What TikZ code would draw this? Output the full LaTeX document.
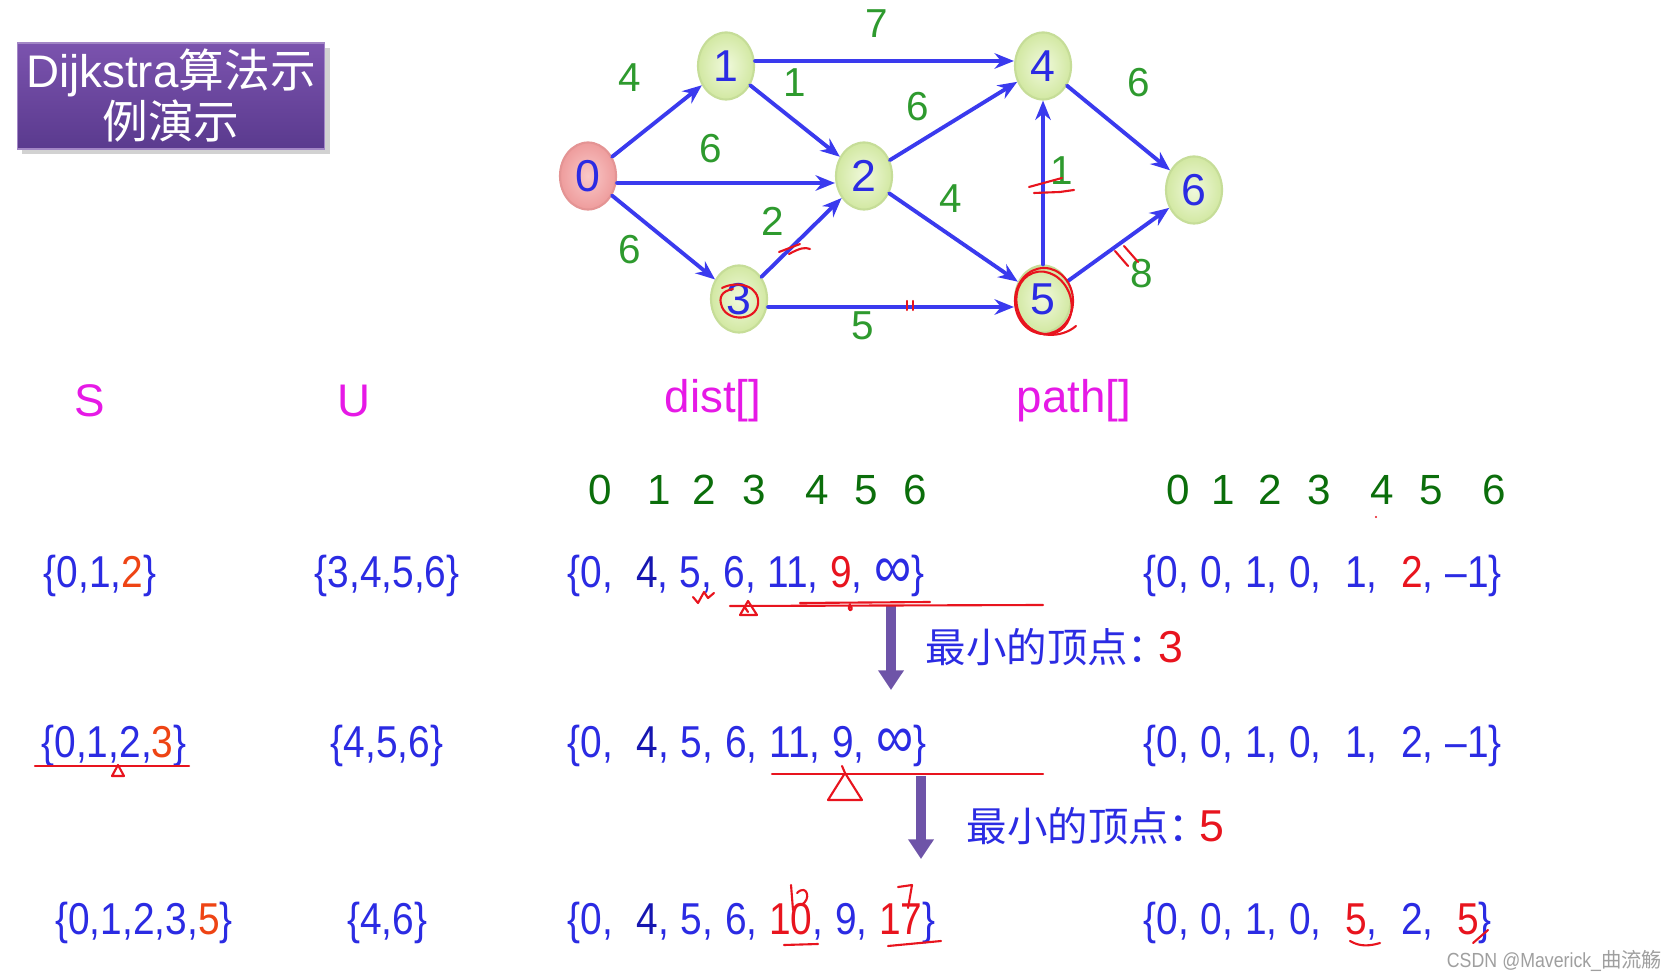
\documentclass[tikz,border=0pt]{standalone}
\usepackage{fontspec}
\setmainfont{Liberation Sans}
\newfontfamily\cjk{Noto Sans CJK SC}
\newfontfamily\narrow[FakeStretch=0.87]{Liberation Sans}
\newfontfamily\distfont[FakeStretch=0.87,WordSpace=1.2]{Liberation Sans}
\newfontfamily\pathfont[FakeStretch=0.87,WordSpace=1.03]{Liberation Sans}
\usetikzlibrary{arrows.meta,shapes.geometric,shadows}
\definecolor{linkblue}{HTML}{3A3AEE}
\definecolor{txtblue}{HTML}{2B2BE3}
\definecolor{deepblue}{HTML}{1616B0}
\definecolor{wgreen}{HTML}{2E9A2E}
\definecolor{igreen}{HTML}{0B6E0B}
\definecolor{hmag}{HTML}{E619E6}
\definecolor{hot}{HTML}{EE4414}
\definecolor{inkred}{HTML}{E8141E}
\definecolor{arrowpurple}{HTML}{6E54A8}
\definecolor{boxtop}{HTML}{7B53AE}
\definecolor{boxbot}{HTML}{5A3A8E}
\definecolor{vline}{HTML}{C6DD98}
\definecolor{vin}{HTML}{F0F9DC}
\definecolor{vout}{HTML}{D2E8A2}
\definecolor{sline}{HTML}{E49494}
\definecolor{sin}{HTML}{F9C8C8}
\definecolor{sout}{HTML}{EE9C9C}
\newcommand\fsz[1]{\fontsize{#1}{#1}\selectfont}
\newcommand\redv[1]{\textcolor{inkred}{#1}}
\newcommand\orgv[1]{\textcolor{hot}{#1}}
\newcommand\navyv[1]{\textcolor{deepblue}{#1}}
\newcommand\infy{{\fsz{17}∞}}
\begin{document}
\begin{tikzpicture}[x=.01cm,y=-.01cm,line cap=round,
  vert/.style={ellipse,minimum width=.56cm,minimum height=.67cm,inner sep=0pt,draw=vline,line width=.6pt,inner color=vin,outer color=vout,text=txtblue,font=\fsz{12.7}},
  src/.style={vert,draw=sline,inner color=sin,outer color=sout},
  link/.style={linkblue,line width=1.1pt,-{Stealth[length=5.5pt,width=4.4pt]}},
  wt/.style={text=wgreen,font=\fsz{11.5}},
  hdr/.style={text=hmag,font=\fsz{13}},
  idx/.style={text=igreen,font=\fsz{12}},
  rowtxt/.style={text=txtblue,font=\narrow\fsz{12.7},inner sep=0pt},
  note/.style={text=txtblue,font=\fsz{11.5},inner sep=0pt,anchor=west},
  bigarrow/.style={arrowpurple,line width=3.1pt,line cap=butt,-{Triangle[length=5.6pt,width=7pt]}},
  ink/.style={inkred,line width=.6pt,line join=round},
  titlebox/.style={rectangle,minimum width=3.07cm,minimum height=1.06cm,inner sep=0pt,top color=boxtop,bottom color=boxbot,draw=boxtop!70!white,line width=.4pt,text=white,align=center,font=\fontsize{13}{14.5}\selectfont,drop shadow={shadow xshift=.05cm,shadow yshift=-.05cm,opacity=.35}}]
\fill[white] (0,0) rectangle (1677,980);
\useasboundingbox (0,0) rectangle (1677,980);
% title
\node[titlebox] (title) at (171,96) {Dijkstra{\cjk 算法示}\\{\cjk 例演示}};
% graph
\node[src] (v0) at (588,176) {0};
\node[vert] (v1) at (726,66) {1};
\node[vert] (v2) at (864,176) {2};
\node[vert] (v3) at (739,299) {3};
\node[vert] (v4) at (1043,66) {4};
\node[vert] (v5) at (1043,299) {5};
\node[vert] (v6) at (1194,190) {6};
\foreach \a/\b in {v0/v1,v0/v3,v1/v2,v3/v2,v2/v4,v2/v5,v5/v4,v4/v6,v5/v6}
  \draw[link] (\a) -- (\b);
\draw[link] ([yshift=-.07cm]v0.east) -- ([yshift=-.07cm]v2.west);
\draw[link] ([yshift=.05cm]v1.east) -- ([yshift=.05cm]v4.west);
\draw[link] ([yshift=-.08cm]v3.east) -- ([yshift=-.08cm]v5.west);
\foreach \n/\x/\y/\t in {w14/877/24/7,w01/630/78/4,w12/795/83/1,w02/711/149/6,w24/918/107/6,w46/1139/83/6,w32/773/221/2,w25/951/199/4,w54/1062/171/1,w03/630/250/6,w35/863/326/5,w56/1142/274/8}
  \node[wt] (\n) at (\x,\y) {\t};
% handwritten marks on the graph
\draw[ink] (722,288) .. controls (738,280) and (760,286) .. (758,304) .. controls (756,321) and (728,322) .. (722,307) .. controls (718,297) and (722,291) .. (733,289);
\draw[ink] (1044,301) ellipse (.29cm and .33cm);
\draw[ink,rotate around={20:(1044,303)}] (1044,303) ellipse (.27cm and .32cm);
\draw[ink] (1020,318) .. controls (1035,340) and (1062,338) .. (1076,326);
\draw[ink] (779,252) -- (800,244) (789,254) .. controls (800,248) and (805,247) .. (810,249);
\draw[ink] (907,301) -- (907,310) (913,301) -- (913,310);
\draw[ink] (1029,187) -- (1062,178) (1034,193) -- (1060,192) -- (1074,190);
\draw[ink] (1115,251) -- (1128,266) (1124,246) -- (1138,262);
% column headers
\node[hdr] (hS) at (90,401) {S};
\node[hdr] (hU) at (354,401) {U};
\node[hdr] (hd) at (713,401) {dist[]};
\node[hdr] (hp) at (1074,401) {path[]};
\foreach \x [count=\i from 0] in {600,659,704,754,817,866,915}
  \node[idx] (di\i) at (\x,490) {\i};
\foreach \x [count=\i from 0] in {1178,1223,1270,1319,1382,1431,1494}
  \node[idx] (pi\i) at (\x,490) {\i};
\fill[inkred] (1376,517) circle (.012cm);
% rows
\node[rowtxt] (s1) at (100,576) {\{0,1,\orgv{2}\}};
\node[rowtxt] (u1) at (387,576) {\{3,4,5,6\}};
\node[rowtxt,anchor=west,font=\distfont\fsz{12.7}] (d1) at (567,576) {\{0,\ \ \navyv{4}, 5, 6, 11, \redv{9}, \infy\}};
\node[rowtxt,anchor=west,font=\pathfont\fsz{12.7}] (p1) at (1143,576) {\{0, 0, 1, 0,\ \ 1,\ \ \redv{2}, –1\}};
\node[rowtxt] (s2) at (114,746) {\{0,1,2,\orgv{3}\}};
\node[rowtxt] (u2) at (387,746) {\{4,5,6\}};
\node[rowtxt,anchor=west,font=\distfont\fsz{12.7}] (d2) at (567,746) {\{0,\ \ \navyv{4}, 5, 6, 11, 9, \infy\}};
\node[rowtxt,anchor=west,font=\pathfont\fsz{12.7}] (p2) at (1143,746) {\{0, 0, 1, 0,\ \ 1,\ \ 2, –1\}};
\node[rowtxt] (s3) at (144,923) {\{0,1,2,3,\orgv{5}\}};
\node[rowtxt] (u3) at (387,923) {\{4,6\}};
\node[rowtxt,anchor=west,font=\distfont\fsz{12.7}] (d3) at (567,923) {\{0,\ \ \navyv{4}, 5, 6, \redv{10}, 9, \redv{17}\}};
\node[rowtxt,anchor=west,font=\pathfont\fsz{12.7}] (p3) at (1143,923) {\{0, 0, 1, 0,\ \ \redv{5},\ \ 2,\ \ \redv{5}\}};
% steps
\coordinate (a1) at (891,606); \coordinate (a1e) at (891,690);
\coordinate (a2) at (921,776); \coordinate (a2e) at (921,859);
\draw[bigarrow] (a1) -- (a1e);
\draw[bigarrow] (a2) -- (a2e);
\node[note] (m1) at (925,647) {{\cjk 最小的顶点：}\kern-.25em\redv{\fsz{12.7}3}};
\node[note] (m2) at (966,826) {{\cjk 最小的顶点：}\kern-.25em\redv{\fsz{12.7}5}};
% handwritten marks on the table
\draw[ink] (730,606) -- (1043,605) (800,603) -- (930,602);
\draw[ink] (748,601) -- (740,615) -- (757,615) -- cycle (748,612) -- (744,606);
\draw[ink] (850,604) .. controls (846,612) and (854,612) .. (851,606);
\draw[ink] (693,597) -- (698,603) -- (704,592) -- (708,598) -- (714,593);
\draw[ink] (35,766) -- (189,766);
\draw[ink] (118,765) -- (112,776) -- (124,776) -- cycle;
\draw[ink] (772,774) -- (1043,774);
\draw[ink] (845,773) -- (828,800) -- (862,800) -- cycle (845,773) -- (842,766);
\draw[ink] (791,885) -- (793,910) (797,893) .. controls (807,883) and (812,900) .. (801,905);
\draw[ink] (784,945) -- (818,944) (888,946) -- (941,941);
\draw[ink] (898,887) -- (912,885) -- (908,908);
\draw[ink] (1350,941) .. controls (1360,947) and (1370,946) .. (1380,943);
\draw[ink] (1473,943) -- (1488,930);
% watermark
\node[anchor=east,text=gray!75,font=\narrow\fsz{5.8},inner sep=0pt] (wm) at (1663,961) {CSDN @Maverick\_{\cjk 曲流觞}};
\end{tikzpicture}
\end{document}
